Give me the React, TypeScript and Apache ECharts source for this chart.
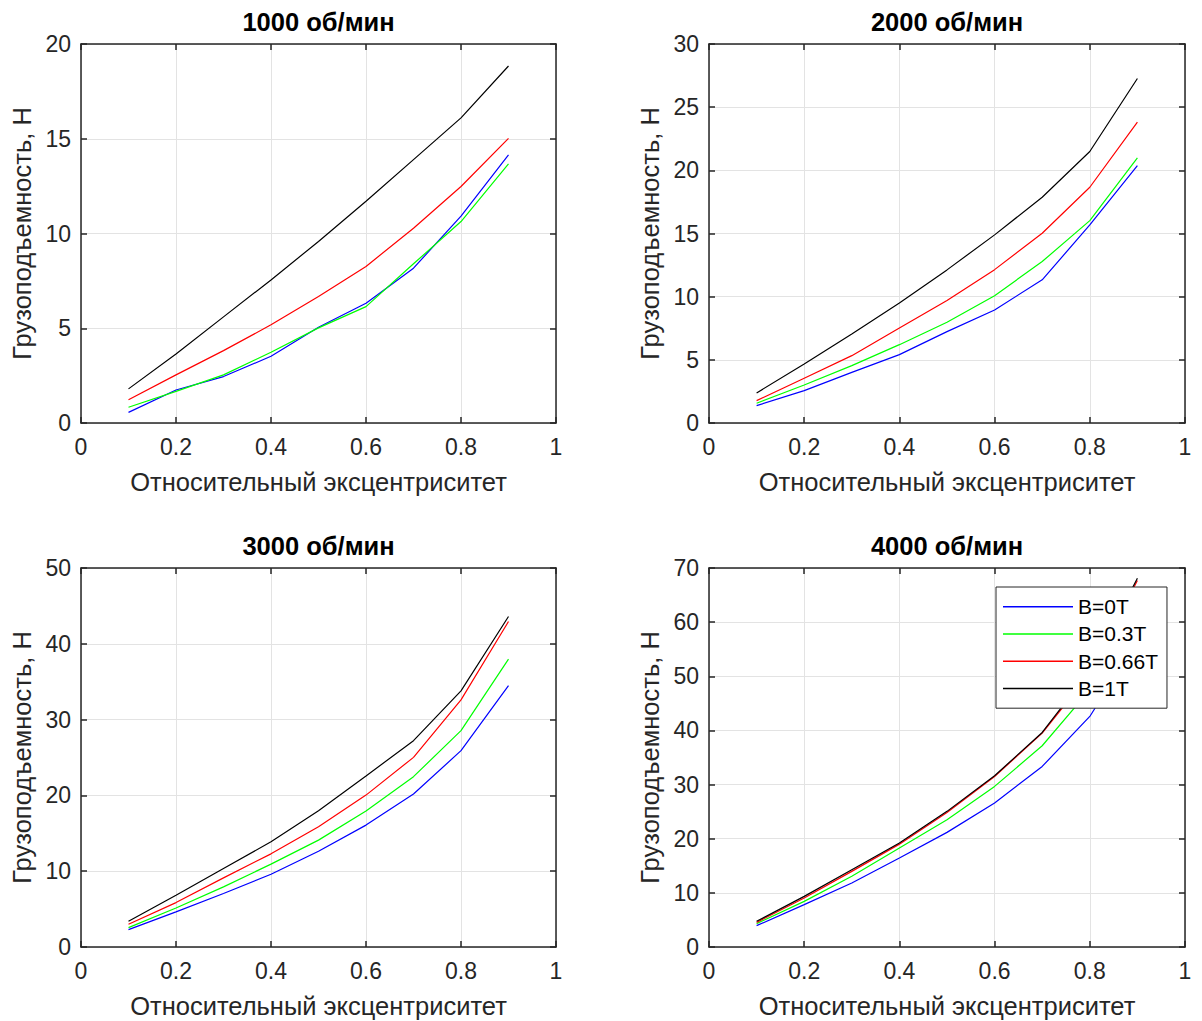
import React, { useEffect, useRef } from "react";
import * as echarts from "echarts";

// Relative eccentricity (x) shared by all panels
const eccentricity = [0.1, 0.2, 0.3, 0.4, 0.5, 0.6, 0.7, 0.8, 0.9];

// Series names (magnetic induction) and their line colours
const seriesNames = ["B=0T", "B=0.3T", "B=0.66T", "B=1T"];
const seriesColors = ["#0000FF", "#00FF00", "#FF0000", "#000000"];

// Panel titles (shaft speed)
const panelTitles = ["1000 об/мин", "2000 об/мин", "3000 об/мин", "4000 об/мин"];

// Load capacity, N — 1000 rpm
const load1000_B0 = [0.56, 1.74, 2.45, 3.52, 5.05, 6.32, 8.17, 10.92, 14.15];
const load1000_B03 = [0.83, 1.67, 2.54, 3.73, 5.02, 6.14, 8.4, 10.63, 13.68];
const load1000_B066 = [1.23, 2.54, 3.82, 5.18, 6.67, 8.26, 10.28, 12.48, 15.02];
const load1000_B1 = [1.8, 3.64, 5.6, 7.55, 9.58, 11.7, 13.9, 16.1, 18.84];

// Load capacity, N — 2000 rpm
const load2000_B0 = [1.37, 2.56, 4.01, 5.41, 7.23, 8.95, 11.33, 15.68, 20.38];
const load2000_B03 = [1.56, 3.01, 4.54, 6.2, 7.97, 10.08, 12.78, 16.02, 20.99];
const load2000_B066 = [1.77, 3.54, 5.33, 7.52, 9.69, 12.14, 15.02, 18.66, 23.81];
const load2000_B1 = [2.38, 4.67, 7.05, 9.5, 12.12, 14.89, 17.87, 21.49, 27.27];

// Load capacity, N — 3000 rpm
const load3000_B0 = [2.29, 4.63, 7.05, 9.6, 12.64, 16.08, 20.18, 25.9, 34.49];
const load3000_B03 = [2.56, 5.15, 7.93, 10.93, 14.1, 17.93, 22.47, 28.55, 37.97];
const load3000_B066 = [3.0, 5.86, 9.12, 12.29, 15.86, 20.04, 25.02, 32.6, 42.95];
const load3000_B1 = [3.39, 6.83, 10.35, 13.88, 17.97, 22.56, 27.22, 33.79, 43.6];

// Load capacity, N — 4000 rpm
const load4000_B0 = [3.94, 7.82, 11.82, 16.43, 21.17, 26.58, 33.35, 42.58, 56.5];
const load4000_B03 = [4.31, 8.43, 13.05, 18.28, 23.5, 29.66, 37.17, 47.5, 62.5];
const load4000_B066 = [4.55, 9.05, 13.97, 19.0, 24.86, 31.5, 39.5, 50.5, 67.7];
const load4000_B1 = [4.74, 9.35, 14.28, 19.2, 25.05, 31.63, 39.63, 51.0, 68.1];

const panelData = [
  [load1000_B0, load1000_B03, load1000_B066, load1000_B1],
  [load2000_B0, load2000_B03, load2000_B066, load2000_B1],
  [load3000_B0, load3000_B03, load3000_B066, load3000_B1],
  [load4000_B0, load4000_B03, load4000_B066, load4000_B1],
];

// Y axis ranges per panel
const yMax = [20, 30, 50, 70];
const yStep = [5, 5, 10, 10];

const xAxisTitle = "Относительный эксцентриситет";
const yAxisTitle = "Грузоподъемность, Н";

const FONT = "'Liberation Sans', Arial, Helvetica, sans-serif";
const AXIS_COLOR = "#262626";

// Plot-area rectangles of the 2x2 layout
const grids = [
  { left: 81, top: 44, width: 475, height: 379 },
  { left: 709, top: 44, width: 476, height: 379 },
  { left: 81, top: 568, width: 475, height: 379 },
  { left: 709, top: 568, width: 476, height: 379 },
];

function buildOption() {
  const xAxes: any[] = [];
  const yAxes: any[] = [];
  const series: any[] = [];

  const tickCommon = {
    inside: true,
    length: 6,
    lineStyle: { color: AXIS_COLOR, width: 1.5 },
  };
  const lineCommon = {
    show: true,
    onZero: false,
    lineStyle: { color: AXIS_COLOR, width: 1.5 },
  };
  const gridLine = { show: true, lineStyle: { color: "#e3e3e3", width: 1 } };

  // primary (bottom / left) axes
  grids.forEach((_, i) => {
    xAxes.push({
      type: "value",
      gridIndex: i,
      position: "bottom",
      min: 0,
      max: 1,
      interval: 0.2,
      axisLine: lineCommon,
      axisTick: tickCommon,
      axisLabel: {
        color: AXIS_COLOR,
        fontSize: 23,
        fontFamily: FONT,
        margin: 12,
        showMinLabel: true,
        showMaxLabel: true,
      },
      splitLine: gridLine,
      name: xAxisTitle,
      nameLocation: "middle",
      nameGap: 46,
      nameTextStyle: { color: AXIS_COLOR, fontSize: 25.5, fontFamily: FONT },
    });
    yAxes.push({
      type: "value",
      gridIndex: i,
      position: "left",
      min: 0,
      max: yMax[i],
      interval: yStep[i],
      axisLine: lineCommon,
      axisTick: tickCommon,
      axisLabel: {
        color: AXIS_COLOR,
        fontSize: 23,
        fontFamily: FONT,
        margin: 10,
        showMinLabel: true,
        showMaxLabel: true,
      },
      splitLine: gridLine,
      name: yAxisTitle,
      nameLocation: "middle",
      nameGap: 46,
      nameRotate: 90,
      nameTextStyle: { color: AXIS_COLOR, fontSize: 25.5, fontFamily: FONT },
    });
  });

  // mirrored (top / right) axes for the box with inward ticks; top carries the title
  grids.forEach((_, i) => {
    xAxes.push({
      type: "value",
      gridIndex: i,
      position: "top",
      min: 0,
      max: 1,
      interval: 0.2,
      axisLine: lineCommon,
      axisTick: tickCommon,
      axisLabel: { show: false },
      splitLine: { show: false },
      name: panelTitles[i],
      nameLocation: "middle",
      nameGap: 9,
      nameTextStyle: {
        color: "#000",
        fontSize: 25.5,
        fontWeight: "bold",
        fontFamily: FONT,
      },
    });
    yAxes.push({
      type: "value",
      gridIndex: i,
      position: "right",
      min: 0,
      max: yMax[i],
      interval: yStep[i],
      axisLine: lineCommon,
      axisTick: tickCommon,
      axisLabel: { show: false },
      splitLine: { show: false },
    });
  });

  panelData.forEach((panel, i) => {
    panel.forEach((values, j) => {
      series.push({
        type: "line",
        name: seriesNames[j],
        xAxisIndex: i,
        yAxisIndex: i,
        data: eccentricity.map((x, k) => [x, values[k]]),
        showSymbol: false,
        symbol: "none",
        lineStyle: { color: seriesColors[j], width: 1.2 },
        itemStyle: { color: seriesColors[j] },
        emphasis: { disabled: true },
        z: 2,
      });
    });
  });

  return {
    animation: false,
    backgroundColor: "#ffffff",
    grid: grids.map((g) => ({ ...g, containLabel: false })),
    xAxis: xAxes,
    yAxis: yAxes,
    legend: {
      show: true,
      orient: "vertical",
      left: 996,
      top: 587,
      data: seriesNames.map((n) => ({ name: n, icon: "rect" })),
      itemWidth: 70,
      itemHeight: 1.5,
      itemGap: 0,
      padding: [6, 9, 6, 7],
      backgroundColor: "#ffffff",
      borderColor: "#262626",
      borderWidth: 1,
      borderRadius: 0,
      selectedMode: false,
      textStyle: {
        color: "#000",
        fontSize: 21,
        fontFamily: FONT,
        lineHeight: 27.3,
      },
      z: 10,
    },
    series,
  };
}

export default function App() {
  const ref = useRef<HTMLDivElement | null>(null);

  useEffect(() => {
    document.body.style.margin = "0";
    document.body.style.overflow = "hidden";
    if (!ref.current) return;
    const chart = echarts.init(ref.current, undefined, { renderer: "svg" });
    chart.setOption(buildOption() as any);
    return () => {
      chart.dispose();
    };
  }, []);

  return (
    <div
      ref={ref}
      style={{
        position: "fixed",
        left: 0,
        top: 0,
        width: 1202,
        height: 1021,
        background: "#fff",
      }}
    />
  );
}
